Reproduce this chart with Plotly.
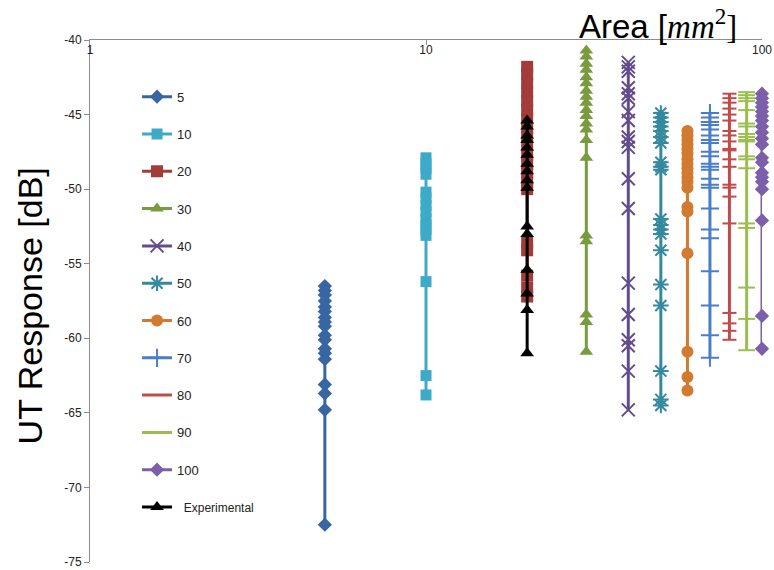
import plotly.graph_objects as go

# ---- data (dB values), x = defect area in mm^2 ----
areas = [5, 10, 20, 30, 40, 50, 60, 70, 80, 90, 100]
names = ["5", "10", "20", "30", "40", "50", "60", "70", "80", "90", "100"]

resp_5 = [-56.5, -56.8, -57.1, -57.5, -57.9, -58.2, -58.6, -58.9, -59.2, -59.8,
          -60.1, -60.7, -61.0, -61.4, -63.1, -63.7, -64.8, -72.5]
resp_10 = [-47.9, -48.3, -48.6, -49.0, -50.2, -50.6, -51.1, -51.5, -52.0, -52.4,
           -52.7, -53.1, -56.2, -62.5, -63.8]
resp_20 = [-41.8, -42.3, -42.9, -43.5, -44.1, -44.7, -45.3, -45.9, -46.5, -47.1,
           -47.7, -48.3, -48.9, -49.5, -50.0, -53.6, -54.1, -55.8, -56.6, -57.2]
resp_30 = [-40.7, -41.1, -41.6, -42.0, -42.5, -42.9, -43.4, -43.8, -44.2, -44.7,
           -45.1, -45.6, -46.0, -46.7, -47.9, -53.1, -53.5, -58.4, -58.9, -60.9]
resp_40 = [-41.5, -41.8, -42.1, -43.2, -43.6, -43.9, -44.8, -45.4, -46.5, -46.8,
           -47.2, -49.3, -51.3, -56.3, -58.4, -60.1, -60.5, -62.2, -64.8]
resp_50 = [-44.9, -45.2, -45.5, -45.8, -46.1, -46.5, -46.9, -48.2, -48.5, -48.7,
           -52.0, -52.4, -52.7, -53.0, -54.1, -56.4, -57.8, -62.2, -64.1, -64.5]
resp_60 = [-46.1, -46.4, -46.7, -47.0, -47.3, -47.6, -48.0, -48.3, -48.6, -48.9,
           -49.2, -49.5, -49.9, -51.2, -51.5, -54.3, -60.9, -62.6, -63.5]
resp_70 = [-44.9, -45.2, -45.5, -45.7, -46.0, -46.4, -46.7, -46.9, -47.5, -47.8,
           -48.3, -48.5, -48.7, -49.3, -49.7, -49.9, -51.3, -52.7, -53.3, -55.5,
           -57.8, -59.8, -61.3]
resp_80 = [-43.6, -43.9, -44.2, -44.6, -45.0, -45.4, -46.1, -46.4, -46.8, -47.3,
           -47.4, -48.0, -48.5, -49.7, -49.9, -50.5, -52.3, -58.3, -59.0, -59.5,
           -60.1]
resp_90 = [-43.5, -43.7, -43.9, -44.1, -44.7, -45.6, -45.8, -46.3, -46.5, -46.7,
           -46.8, -47.8, -48.0, -48.6, -52.3, -52.6, -56.6, -58.7, -60.8]
resp_100 = [-43.6, -43.9, -44.2, -44.5, -44.8, -45.1, -45.4, -45.8, -46.2, -46.6,
            -47.0, -47.9, -48.2, -48.9, -49.2, -49.5, -50.0, -52.1, -58.5, -60.7]
exp_area = 20
resp_exp = [-45.4, -45.8, -46.4, -46.7, -47.2, -47.7, -48.3, -48.8, -49.4, -49.9,
            -52.5, -53.0, -55.4, -57.0, -58.1, -61.0]

series = [resp_5, resp_10, resp_20, resp_30, resp_40, resp_50, resp_60,
          resp_70, resp_80, resp_90, resp_100]

x_tickvals = [1, 10, 100]
x_ticktext = ["1", "10", "100"]
y_tickvals = [-40, -45, -50, -55, -60, -65, -70, -75]
y_ticktext = ["-40", "-45", "-50", "-55", "-60", "-65", "-70", "-75"]

# ---- styles ----
colors = ["#3766A3", "#3DAAC8", "#A33B3A", "#7A9A3E", "#644C8C", "#34899E",
          "#D27A2F", "#4A7FC6", "#C44A4A", "#9BBF4F", "#7D5EA8"]
symbols = ["diamond", "square", "square", "triangle-up", "x-thin", "asterisk",
           "circle", "cross-thin", "line-ew", "line-ew", "diamond"]
sizes = [11, 11, 12, 12, 13, 13, 12, 13, 10, 12, 11]

fig = go.Figure()
for i, (a, nm, vals) in enumerate(zip(areas, names, series)):
    thin = symbols[i] in ("x-thin", "asterisk", "cross-thin", "line-ew")
    fig.add_trace(go.Scatter(
        x=[a] * len(vals), y=vals, name=nm, mode="lines+markers",
        legendgroup=nm, cliponaxis=False,
        line=dict(color=colors[i], width=3),
        marker=dict(symbol=symbols[i], size=sizes[i], color=colors[i],
                    line=dict(color=colors[i], width=2 if thin else 0)),
    ))

fig.add_trace(go.Scatter(
    x=[exp_area] * len(resp_exp), y=resp_exp,
    name="<span style='font-size:12px'>&nbsp;&nbsp;Experimental</span>",
    mode="lines+markers", legendgroup="exp", cliponaxis=False,
    line=dict(color="black", width=3),
    marker=dict(symbol="triangle-up", size=12, color="black"),
))

axis_col = "#8C8C8C"
fig.update_layout(
    width=774, height=570,
    paper_bgcolor="white", plot_bgcolor="white",
    margin=dict(l=90, r=12, t=40, b=8, autoexpand=False),
    font=dict(family="Liberation Sans, Arial, sans-serif", size=12, color="#222"),
    showlegend=True,
    legend=dict(x=0.07, y=0.92, xanchor="left", yanchor="top",
                bgcolor="rgba(0,0,0,0)", font=dict(size=13, color="#222"),
                tracegroupgap=17.4, itemwidth=30),
    xaxis=dict(type="log", range=[0, 2], side="top",
               tickvals=x_tickvals, ticktext=x_ticktext,
               ticklabelposition="inside", ticklabeloverflow="allow",
               ticks="inside", ticklen=5,
               tickcolor=axis_col, showline=True, linecolor=axis_col,
               linewidth=1, showgrid=False, zeroline=False, automargin=False,
               tickfont=dict(size=12, color="#222")),
    yaxis=dict(range=[-75, -40], tickvals=y_tickvals, ticktext=y_ticktext,
               ticks="outside", ticklen=5, ticklabeloverflow="allow",
               tickcolor=axis_col, showline=True, linecolor=axis_col,
               linewidth=1, showgrid=False, zeroline=False, automargin=False,
               tickfont=dict(size=12, color="#222")),
    annotations=[
        dict(xref="paper", yref="paper", x=-0.089, y=0.49, textangle=-90,
             xanchor="center", yanchor="middle",
             text="UT Response [dB]", showarrow=False,
             font=dict(size=34, color="black",
                       family="Liberation Sans, Arial, sans-serif")),
        dict(xref="paper", yref="paper", x=0.845, y=1.031,
             xanchor="center", yanchor="middle",
             text="Area [<span style='font-family:Liberation Serif, serif'><i>mm</i><sup>2</sup>]</span>",
             showarrow=False,
             font=dict(size=33, color="black",
                       family="Liberation Sans, Arial, sans-serif")),
    ],
)

fig.write_html("out.html", config={"displayModeBar": False},
               post_script="document.body.style.margin='0px';")
